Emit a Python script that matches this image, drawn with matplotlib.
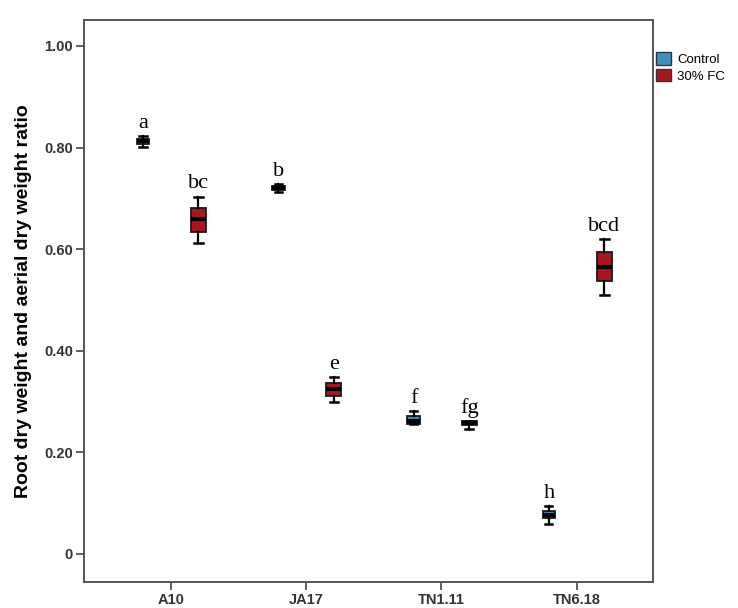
import matplotlib
matplotlib.use('Agg')
import matplotlib.pyplot as plt
from matplotlib.patches import Patch

# genotypes and treatment groups
genotypes = ['A10', 'JA17', 'TN1.11', 'TN6.18']
treatments = ['Control', '30% FC']

# box statistics: whisker low, q1, median, q3, whisker high
ctrl_whislo = [0.802, 0.712, 0.256, 0.059]
ctrl_q1 = [0.807, 0.716, 0.256, 0.071]
ctrl_med = [0.812, 0.720, 0.262, 0.077]
ctrl_q3 = [0.817, 0.724, 0.272, 0.085]
ctrl_whishi = [0.822, 0.728, 0.281, 0.094]

fc_whislo = [0.612, 0.299, 0.246, 0.510]
fc_q1 = [0.634, 0.311, 0.254, 0.537]
fc_med = [0.659, 0.325, 0.258, 0.565]
fc_q3 = [0.681, 0.337, 0.262, 0.594]
fc_whishi = [0.703, 0.348, 0.262, 0.620]

# significance letters
ctrl_letters = ['a', 'b', 'f', 'h']
fc_letters = ['bc', 'e', 'fg', 'bcd']

ctrl_color = '#3a93bd'
fc_color = '#a8171f'

plt.rcParams['font.family'] = ['Liberation Sans', 'DejaVu Sans']

fig = plt.figure(figsize=(7.38, 6.08), dpi=100)
ax = fig.add_axes([0.114, 0.043, 0.771, 0.924])

def make_stats(lo, q1, med, q3, hi):
    out = []
    for i in range(len(lo)):
        out.append({'whislo': lo[i], 'q1': q1[i], 'med': med[i], 'q3': q3[i],
                    'whishi': hi[i], 'fliers': []})
    return out

offset = 0.205
pos_ctrl = [i - offset for i in range(len(genotypes))]
pos_fc = [i + offset for i in range(len(genotypes))]

for stats, pos, col, width in [
        (make_stats(ctrl_whislo, ctrl_q1, ctrl_med, ctrl_q3, ctrl_whishi), pos_ctrl, ctrl_color, 0.095),
        (make_stats(fc_whislo, fc_q1, fc_med, fc_q3, fc_whishi), pos_fc, fc_color, 0.11)]:
    ax.bxp(stats, positions=pos, widths=width, patch_artist=True, showfliers=False,
           capwidths=width * 0.55,
           boxprops=dict(facecolor=col, edgecolor='#1a1a1a', linewidth=1.3),
           medianprops=dict(color='black', linewidth=3.0),
           whiskerprops=dict(color='black', linewidth=1.6),
           capprops=dict(color='black', linewidth=1.8),
           manage_ticks=False)

# letters above the upper whiskers
for pos, hi, lab in zip(pos_ctrl + pos_fc, ctrl_whishi + fc_whishi, ctrl_letters + fc_letters):
    ax.annotate(lab, (pos, hi), xytext=(0, 6), textcoords='offset points',
                ha='center', va='baseline', fontsize=16, family='Liberation Serif')

ax.set_xlim(-0.64, 3.565)
ax.set_ylim(-0.055, 1.051)
ax.set_xticks(range(len(genotypes)))
ax.set_xticklabels(genotypes)
ax.set_yticks([0, 0.2, 0.4, 0.6, 0.8, 1.0])
ax.set_yticklabels(['0', '0.20', '0.40', '0.60', '0.80', '1.00'])

for lab in ax.get_xticklabels() + ax.get_yticklabels():
    lab.set_fontweight('bold')
    lab.set_fontsize(10.5)
    lab.set_color('#333333')
ax.tick_params(axis='both', length=6, width=1.2, color='#444444', direction='out', pad=2)

for sp in ax.spines.values():
    sp.set_color('#555555')
    sp.set_linewidth(1.4)

ax.set_ylabel('Root dry weight and aerial dry weight ratio', fontsize=14,
              fontweight='bold', labelpad=9)

handles = [Patch(facecolor=ctrl_color, edgecolor='#333333', label=treatments[0]),
           Patch(facecolor=fc_color, edgecolor='#333333', label=treatments[1])]
fig.legend(handles=handles, loc='upper left', bbox_to_anchor=(0.889, 0.914),
           frameon=False, fontsize=9.5, handlelength=1.1, handleheight=1.1,
           handletextpad=0.5, labelspacing=0.2, borderaxespad=0, borderpad=0)

fig.savefig('out.png', dpi=100)
